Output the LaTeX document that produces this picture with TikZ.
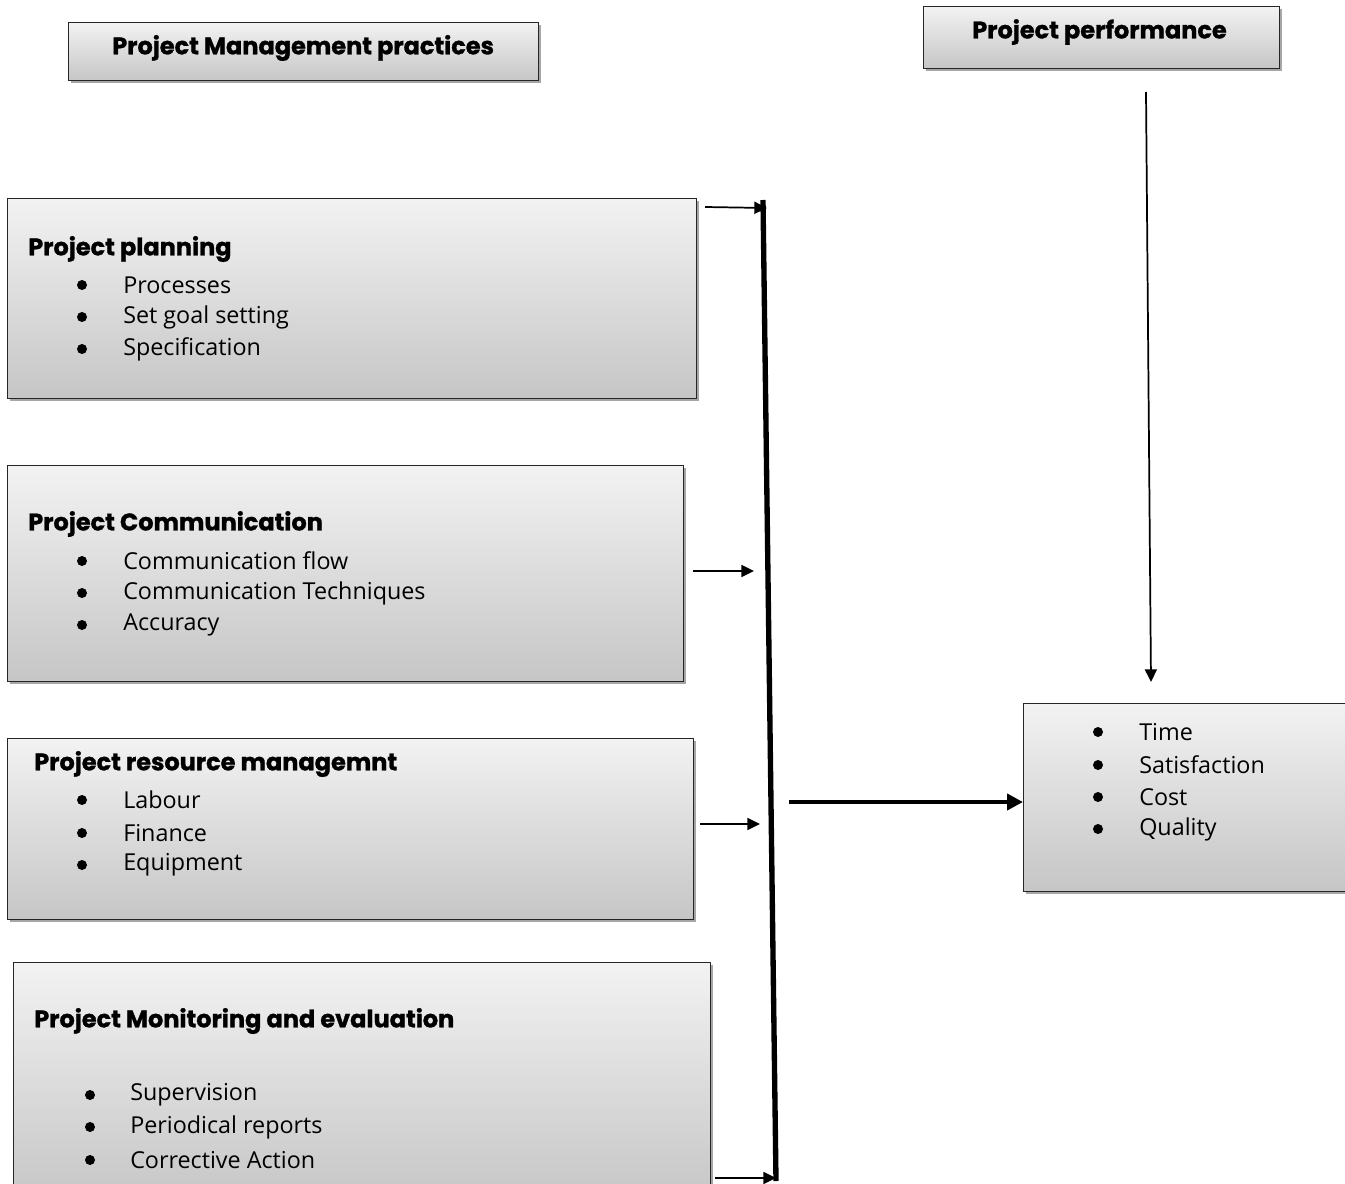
\documentclass[tikz,border=0pt]{standalone}
\usepackage{fontspec}
\setmainfont{Open Sans}
\newfontfamily\headfont{Poppins}[BoldFeatures={FakeBold=1.2}]
\usetikzlibrary{shadows,arrows.meta}
\begin{document}
\begin{tikzpicture}[x=0.75pt,y=-0.75pt,
  gbox/.style={draw=black!85, line width=1pt, top color=gray!10, bottom color=gray!45,
    drop shadow={shadow xshift=1.5pt, shadow yshift=-2pt, fill=black, opacity=0.35},
    anchor=north west, inner sep=0pt},
  head/.style={font=\headfont\bfseries\fontsize{18}{20}\selectfont, anchor=west, inner sep=0pt},
  item/.style={font=\fontsize{17.5}{20}\selectfont, anchor=west, inner sep=0pt},
  bul/.style={circle, fill=black, inner sep=0pt, minimum size=7.5pt},
  thin/.style={line width=1.3pt, -{Triangle[length=9.5pt,width=9pt]}},
  thick/.style={line width=3.5pt, -{Triangle[length=12pt,width=12pt]}}
]
\useasboundingbox (0,0) rectangle (1345,1184);
% headers
\node[gbox, minimum width=0.75*470pt, minimum height=0.75*58pt] (h1) at (68,22) {};
\node[head] (h1t) at (112,48) {Project Management practices};
\node[gbox, minimum width=0.75*356pt, minimum height=0.75*62pt] (h2) at (923,6) {};
\node[head] (h2t) at (972,32) {Project performance};
% box 1
\node[gbox, minimum width=0.75*689pt, minimum height=0.75*200pt] (b1) at (7,198) {};
\node[head] (b1t) at (28,249) {Project planning};
\node[bul] (b1a) at (82,285) {}; \node[item] (b1at) at (123,285) {Processes};
\node[bul] (b1b) at (82,317) {}; \node[item] (b1bt) at (123,317) {Set goal setting};
\node[bul] (b1c) at (82,349) {}; \node[item] (b1ct) at (123,349) {Specification};
% box 2
\node[gbox, minimum width=0.75*676pt, minimum height=0.75*216pt] (b2) at (7,465) {};
\node[head] (b2t) at (28,524) {Project Communication};
\node[bul] (b2a) at (82,561) {}; \node[item] (b2at) at (123,561) {Communication flow};
\node[bul] (b2b) at (82,593) {}; \node[item] (b2bt) at (123,593) {Communication Techniques};
\node[bul] (b2c) at (82,625) {}; \node[item] (b2ct) at (123,625) {Accuracy};
% box 3
\node[gbox, minimum width=0.75*686pt, minimum height=0.75*181pt] (b3) at (7,738) {};
\node[head] (b3t) at (34,764) {Project resource managemnt};
\node[bul] (b3a) at (82,800) {}; \node[item] (b3at) at (123,800) {Labour};
\node[bul] (b3b) at (82,833) {}; \node[item] (b3bt) at (123,833) {Finance};
\node[bul] (b3c) at (82,865) {}; \node[item] (b3ct) at (123,865) {Equipment};
% box 4
\node[gbox, minimum width=0.75*697pt, minimum height=0.75*240pt] (b4) at (13,962) {};
\node[head] (b4t) at (34,1021) {Project Monitoring and evaluation};
\node[bul] (b4a) at (90,1095) {}; \node[item] (b4at) at (130,1095) {Supervision};
\node[bul] (b4b) at (90,1127) {}; \node[item] (b4bt) at (130,1127) {Periodical reports};
\node[bul] (b4c) at (90,1160) {}; \node[item] (b4ct) at (130,1160) {Corrective Action};
% right box
\node[gbox, minimum width=0.75*340pt, minimum height=0.75*188pt] (r) at (1023,703) {};
\node[bul] (ra) at (1098,732) {}; \node[item] (rat) at (1139,732) {Time};
\node[bul] (rb) at (1098,765) {}; \node[item] (rbt) at (1139,765) {Satisfaction};
\node[bul] (rc) at (1098,797) {}; \node[item] (rct) at (1139,797) {Cost};
\node[bul] (rd) at (1098,829) {}; \node[item] (rdt) at (1139,829) {Quality};
% vertical bar
\coordinate (vt) at (763,200);
\coordinate (vb) at (776,1181);
\draw[line width=4pt] (vt) -- (vb);
% small arrows
\coordinate (a1s) at (705,207); \coordinate (a1e) at (767,208);
\coordinate (a2s) at (693,571); \coordinate (a2e) at (754,571);
\coordinate (a3s) at (700,824); \coordinate (a3e) at (760,824);
\coordinate (a4s) at (715,1178); \coordinate (a4e) at (776,1178);
\draw[thin] (a1s) -- (a1e);
\draw[thin] (a2s) -- (a2e);
\draw[thin] (a3s) -- (a3e);
\draw[thin] (a4s) -- (a4e);
% big arrow
\coordinate (bs) at (789,802);
\draw[thick] (bs) -- (bs -| r.west);
% down arrow
\coordinate (ds) at (1146,92);
\coordinate (de) at (1151,682);
\draw[thin] (ds) -- (de);
\end{tikzpicture}
\end{document}
